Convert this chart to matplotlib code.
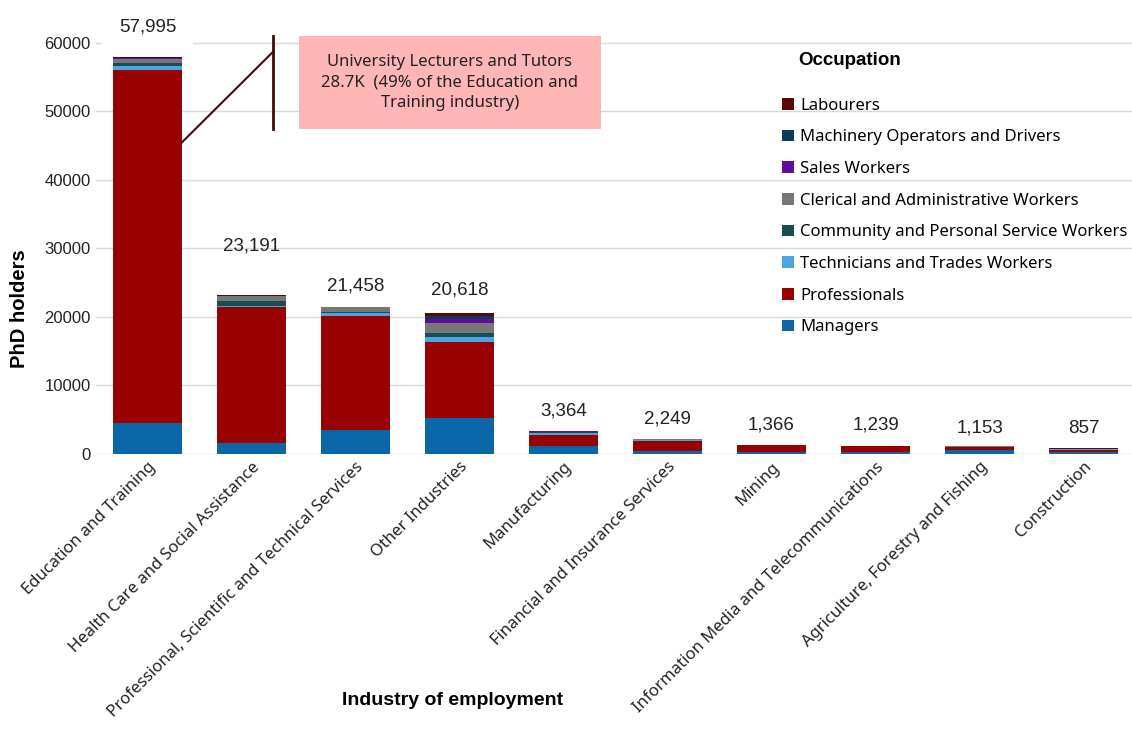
import matplotlib.pyplot as plt
import matplotlib.patches as mpatches
import numpy as np

# industries, left to right
industries = ["Education and Training", "Health Care and Social Assistance",
              "Professional, Scientific and Technical Services", "Other Industries",
              "Manufacturing", "Financial and Insurance Services", "Mining",
              "Information Media and Telecommunications",
              "Agriculture, Forestry and Fishing", "Construction"]
totals = [57995, 23191, 21458, 20618, 3364, 2249, 1366, 1239, 1153, 857]

# occupation segments (bottom to top)
managers = [4500, 1560, 3500, 5300, 1170, 440, 340, 250, 580, 280]
professionals = [51500, 19850, 16700, 11100, 1600, 1460, 960, 850, 390, 300]
technicians = [600, 250, 440, 690, 340, 80, 30, 60, 80, 120]
community = [400, 630, 60, 580, 60, 30, 6, 10, 10, 10]
clerical = [700, 730, 680, 1510, 100, 130, 20, 50, 60, 40]
sales = [100, 40, 30, 540, 30, 90, 4, 9, 13, 7]
machinery = [50, 31, 20, 440, 40, 10, 3, 5, 10, 20]
labourers = [145, 100, 28, 458, 24, 9, 3, 5, 10, 80]

occupations = ["Managers", "Professionals", "Technicians and Trades Workers",
               "Community and Personal Service Workers",
               "Clerical and Administrative Workers", "Sales Workers",
               "Machinery Operators and Drivers", "Labourers"]
colours = ["#0a66a6", "#990000", "#4ea3e4", "#154f4f", "#777777",
           "#640a9a", "#0d3a5e", "#580808"]
series = [managers, professionals, technicians, community, clerical,
          sales, machinery, labourers]

plt.rcParams['font.family'] = ['Noto Sans', 'DejaVu Sans']

fig = plt.figure(figsize=(11.32, 7.4), dpi=100)
ax = fig.add_axes([0.0844, 0.3865, 0.9187, 0.6])

x = np.arange(len(industries))
bottom = np.zeros(len(industries))
for name, vals, col in zip(occupations, series, colours):
    ax.bar(x, vals, 0.66, bottom=bottom, color=col, label=name, zorder=2)
    bottom += np.array(vals)

# total labels (first two were nudged up in the original)
label_offsets = [21, 35, 15, 16, 14, 14, 14, 15, 13, 14]
for xi, t, off in zip(x, totals, label_offsets):
    box = dict(boxstyle="square,pad=0.9", facecolor="white", edgecolor="none") if xi == 0 else None
    ax.annotate(f"{t:,}", (xi, t), xytext=(0, off), textcoords="offset points",
                ha="center", va="center", fontsize=13.5, family="Liberation Sans",
                color="#222222", zorder=4, bbox=box)

ax.set_xlim(-0.5, 9.5)
ax.set_ylim(0, 64800)
ax.set_yticks(np.arange(0, 60001, 10000))
ax.yaxis.grid(True, color="#d9d9d9", linewidth=1, zorder=0)
ax.set_axisbelow(True)
for s in ax.spines.values():
    s.set_visible(False)
ax.tick_params(length=0, labelsize=12, colors="#222222")
ax.set_xticks(x)
ax.set_xticklabels(industries, rotation=45, ha="right", rotation_mode="anchor",
                   fontsize=12)
for lab in ax.get_yticklabels():
    lab.set_family("Liberation Sans")

ax.set_ylabel("PhD holders", fontsize=14.5, fontweight="bold", family="Liberation Sans")
ax.yaxis.set_label_coords(-0.064, 0.327)
fig.text(0.40, 0.054, "Industry of employment", fontsize=14, fontweight="bold",
         family="Liberation Sans", ha="center", va="center")

# callout for university lecturers
ax.plot([0.332, 1.207], [45500, 58700], color="#3d0c0c", lw=1.5, zorder=3)
ax.plot([1.207, 1.207], [61000, 47400], color="#3d0c0c", lw=2, zorder=3)
ax.add_patch(mpatches.Rectangle((1.457, 47400), 2.9, 13600, facecolor="#ffb6b6",
                                edgecolor="none", zorder=3))
ax.text(2.907, 54200, "University Lecturers and Tutors\n28.7K  (49% of the Education and\nTraining industry)",
        ha="center", va="center", fontsize=12, color="#222222", linespacing=1.35, zorder=4)

# legend, reversed so Labourers is on top
handles, labels = ax.get_legend_handles_labels()
leg = ax.legend(handles[::-1], labels[::-1], loc="upper left",
                bbox_to_anchor=(0.685, 0.877), bbox_transform=fig.transFigure,
                frameon=False, fontsize=12, handlelength=0.7, handleheight=0.7,
                handletextpad=0.4, labelspacing=0.94, borderaxespad=0)
fig.text(0.705, 0.918, "Occupation", fontsize=13.5, fontweight="bold",
         family="Liberation Sans", va="center")

fig.savefig("out.png", dpi=100)
